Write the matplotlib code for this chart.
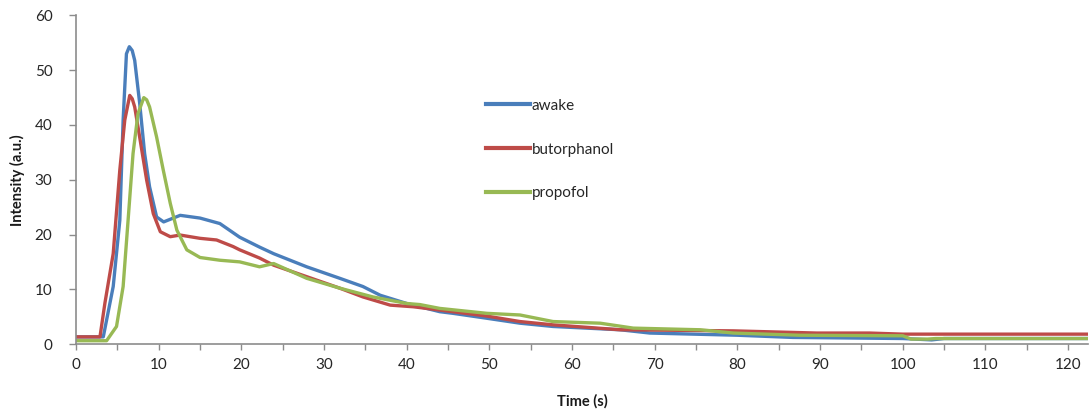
import matplotlib
matplotlib.use("Agg")
import matplotlib.pyplot as plt
from matplotlib.ticker import MultipleLocator

# ---- data ----
awake_t = [0, 3.3, 4.5, 5.3, 5.7, 6.1, 6.45, 6.8, 7.1, 7.7, 8.3, 8.9, 9.75, 10.6, 12.6, 15, 17.4,
           19.8, 22.2, 23.9, 27.9, 31.9, 34.7, 36.8, 40, 44, 45.6, 49.7, 53.7, 57.7, 65.8,
           69.4, 80, 86.7, 100, 103.5, 105, 122.4]
awake_v = [1.3, 1.3, 10.5, 22.6, 40.9, 53, 54.3, 53.6, 51.8, 44, 34.8, 28.7, 23.2, 22.3, 23.5, 23, 22,
           19.5, 17.7, 16.5, 14.1, 12, 10.5, 8.9, 7.4, 5.9, 5.6, 4.7, 3.8, 3.2, 2.6,
           2.0, 1.6, 1.2, 1.0, 0.75, 1.0, 1.0]

butor_t = [0, 2.9, 3.5, 4.5, 5.3, 5.9, 6.5, 6.8, 7.1, 7.7, 8.55, 9.35, 10.2, 11.4, 12.6, 15, 17,
           19, 19.8, 22.2, 23.9, 27.9, 31.9, 34.7, 38, 40.8, 44, 49.7, 53.7, 57.7, 65.8,
           79.5, 89.6, 96, 100, 122.4]
butor_v = [1.3, 1.3, 7.5, 16.5, 31.8, 40.9, 45.4, 44.8, 43.3, 37.8, 29.9, 23.8, 20.5, 19.6, 19.9, 19.3, 19,
           17.8, 17.2, 15.7, 14.4, 12.3, 10.2, 8.6, 7.1, 6.8, 6.2, 5.1, 4.1, 3.5, 2.6,
           2.4, 2.0, 2.0, 1.8, 1.8]

propo_t = [0, 3.7, 4.9, 5.7, 6.3, 6.9, 7.5, 8.2, 8.55, 8.9, 9.75, 10.55, 11.4, 12.2, 13.4, 15, 17.4,
           19.8, 22.2, 23.9, 27.9, 31.9, 35.9, 40, 41.6, 44, 49.7, 53.7, 57.7, 63.4, 67.4,
           75.5, 79.5, 87.5, 100, 101, 103, 104, 122.4]
propo_v = [0.6, 0.6, 3.2, 10.5, 22.6, 34.8, 42.1, 45, 44.6, 43.3, 37.8, 31.8, 25.7, 20.8, 17.2, 15.8, 15.3,
           15.0, 14.1, 14.7, 12, 10.2, 8.6, 7.4, 7.2, 6.5, 5.6, 5.3, 4.1, 3.8, 2.9,
           2.6, 2.0, 1.6, 1.5, 0.9, 0.9, 1.0, 1.0]

labels = ["awake", "butorphanol", "propofol"]
colors = ["#4A7EBB", "#BE4B48", "#98B954"]

plt.rcParams['font.family'] = ['Lato', 'DejaVu Sans']

fig = plt.figure(figsize=(10.9, 4.12), dpi=100)
ax = fig.add_axes([76 / 1090, 1 - 344 / 412, (1088 - 76) / 1090, (344 - 15.5) / 412])

for t, v, lab, c in zip([awake_t, butor_t, propo_t], [awake_v, butor_v, propo_v], labels, colors):
    ax.plot(t, v, color=c, lw=2.4, label=lab, solid_joinstyle='round')

ax.set_xlim(0, 122.4)
ax.set_ylim(0, 60)
ax.xaxis.set_major_locator(MultipleLocator(10))
ax.xaxis.set_minor_locator(MultipleLocator(5))
ax.yaxis.set_major_locator(MultipleLocator(10))

for s in ['top', 'right']:
    ax.spines[s].set_visible(False)
for s in ['left', 'bottom']:
    ax.spines[s].set_color('#8c8c8c')
    ax.spines[s].set_linewidth(1.2)

ax.tick_params(axis='y', which='major', direction='out', length=5, width=1, color='#8c8c8c',
               pad=12, labelsize=11, labelcolor='#262626')
ax.tick_params(axis='x', which='both', direction='out', length=4, width=1, color='#8c8c8c',
               pad=6, labelsize=11, labelcolor='#262626')

ax.set_xlabel("Time (s)", fontsize=10.5, fontweight='bold', color='#1a1a1a', va='center')
ax.set_ylabel("Intensity (a.u.)", fontsize=10.5, fontweight='bold', color='#1a1a1a', va='center')
ax.xaxis.set_label_coords(0.5, -0.175)
ax.yaxis.set_label_coords(-0.0575, 0.5)

leg = ax.legend(frameon=False, loc='upper left', bbox_to_anchor=(404 / 1012, 0.765),
                fontsize=11, handlelength=2.9, handletextpad=0.1, labelspacing=1.95,
                borderaxespad=0)
for line in leg.get_lines():
    line.set_linewidth(3)
for txt in leg.get_texts():
    txt.set_color('#262626')

fig.savefig("out.png", dpi=100)
